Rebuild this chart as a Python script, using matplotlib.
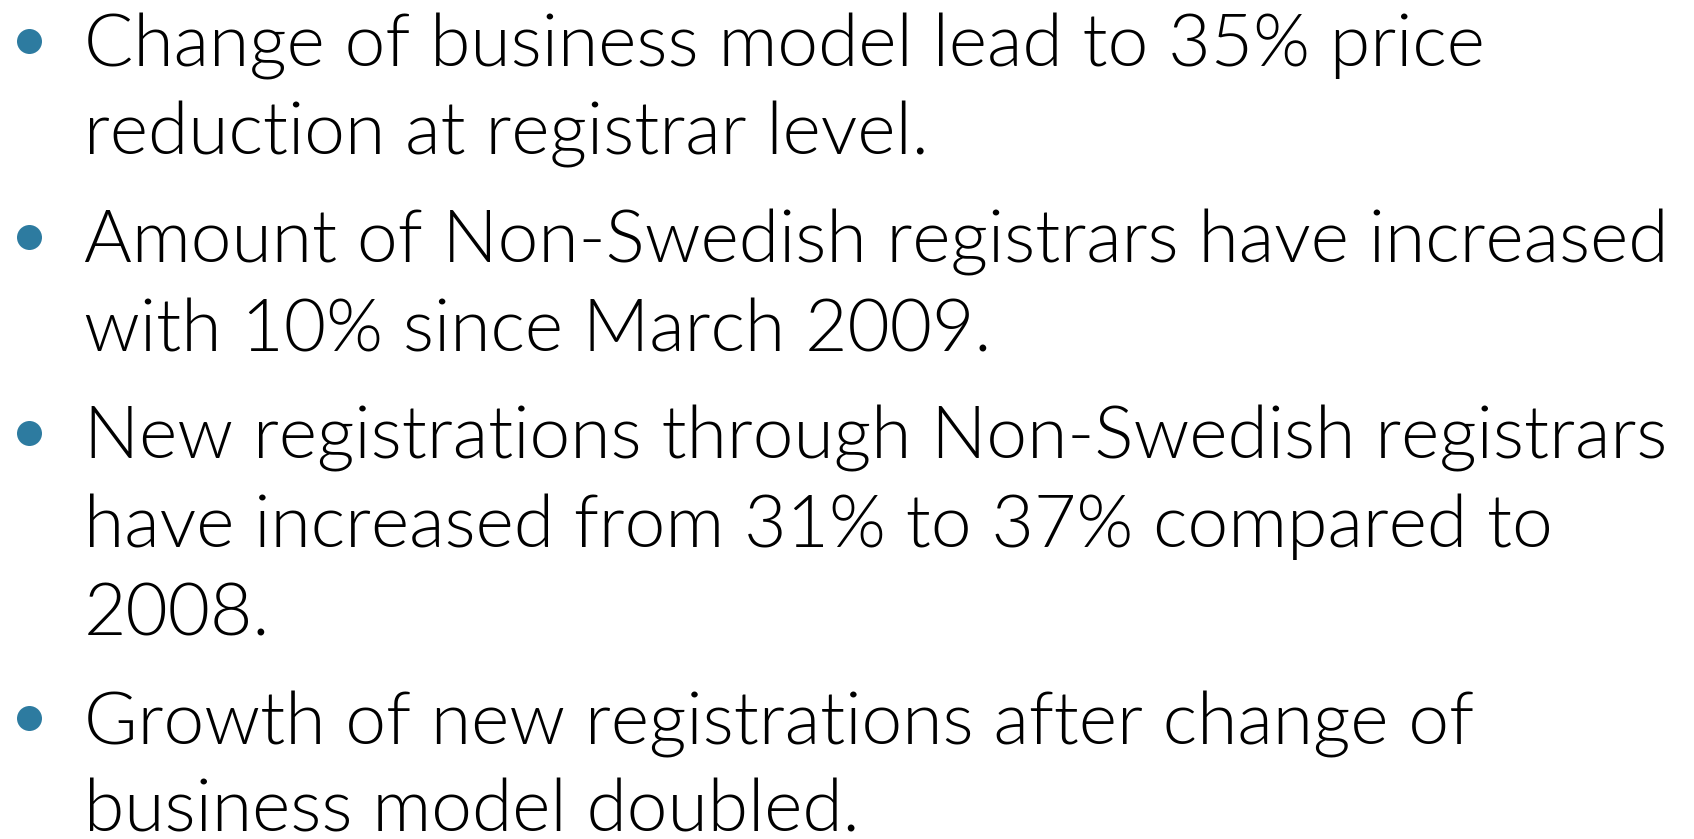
import matplotlib
matplotlib.use("Agg")
import matplotlib.pyplot as plt

# bullet text, one list per bullet
paragraphs = [
    ["Change of business model lead to 35% price",
     "reduction at registrar level."],
    ["Amount of Non-Swedish registrars have increased",
     "with 10% since March 2009."],
    ["New registrations through Non-Swedish registrars",
     "have increased from 31% to 37% compared to",
     "2008."],
    ["Growth of new registrations after change of",
     "business model doubled."],
]

W, H = 1694, 839
first_baseline = [67, 263, 459, 744]
line_step = 88
text_x = 84
bullet_x = 29
bullet_color = "#2D7BA0"
widest_px = 1588  # width of the longest line in the slide

fig = plt.figure(figsize=(W / 100, H / 100), dpi=100)
ax = fig.add_axes([0, 0, 1, 1])
ax.set_xlim(0, W)
ax.set_ylim(H, 0)
ax.axis("off")

font = dict(family=["Lato", "DejaVu Sans"], weight=300, color="black")

# find font size so the longest line has the same width as in the slide
probe = ax.text(0, 0, paragraphs[1][0], fontsize=50, **font)
r = fig.canvas.get_renderer()
fsize = 50 * widest_px / probe.get_window_extent(r).width
probe.remove()

for lines, y0 in zip(paragraphs, first_baseline):
    ax.plot([bullet_x], [y0 - 26], "o", ms=18, color=bullet_color, mec="none")
    for i, line in enumerate(lines):
        ax.text(text_x, y0 + i * line_step, line, fontsize=fsize, va="baseline", **font)

fig.savefig("out.png", dpi=100)
